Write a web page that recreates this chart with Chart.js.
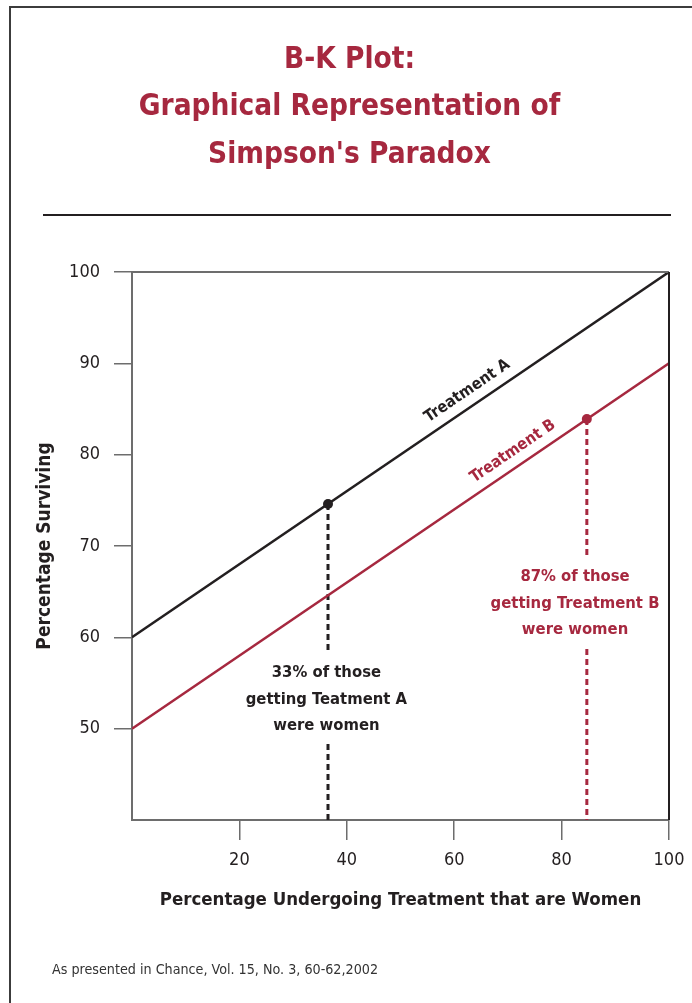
<!DOCTYPE html>
<html>
<head>
<meta charset="utf-8">
<script src="https://cdn.jsdelivr.net/npm/chart.js@4.4.1/dist/chart.umd.min.js"></script>
<style>
  html, body { margin: 0; padding: 0; background: #fff; }
  #wrap { width: 692px; height: 1003px; position: relative; }
</style>
</head>
<body>
<div id="wrap"><canvas id="bkChart"></canvas></div>
<script>
// values
const womenPct = [0, 100];            // both treatment lines run across the whole range
const survivalA = [60, 100];
const survivalB = [50, 90];
const markerWomen = [36.5, 84.7];     // where each treatment actually sits
const markerSurvival = [74.6, 83.9];
const xTicks = [20, 40, 60, 80, 100];
const yTicks = [50, 60, 70, 80, 90, 100];
const noteA = ["33% of those", "getting Teatment A", "were women"];
const noteB = ["87% of those", "getting Treatment B", "were women"];

const RED = "#a6283f";
const INK = "#231f20";
const AXIS = "#6d6d6d";
const FONT = "'Liberation Sans Narrow', 'DejaVu Sans Condensed', 'Liberation Sans', sans-serif";

const pts = (xs, ys) => xs.map((v, i) => ({ x: v, y: ys[i] }));

// text along the lines + the two notes (placed in data units)
const lineLabels = [
  { text: "Treatment A", at: 64, ys: survivalA, color: INK },
  { text: "Treatment B", at: 72.5, ys: survivalB, color: RED }
];
const notes = [
  { lines: noteA, x: 36.2, y: 56.1, drop: 0, color: INK },
  { lines: noteB, x: 82.5, y: 66.6, drop: 1, color: RED }
];

const decor = {
  id: "decor",
  beforeDraw(chart) {
    const c = chart.ctx;
    c.save();
    // outer frame (left + top only)
    c.strokeStyle = "#3c3c3c";
    c.lineWidth = 2;
    c.beginPath();
    c.moveTo(10, 1003); c.lineTo(10, 7); c.lineTo(692, 7);
    c.stroke();
    // rule under the title
    c.strokeStyle = INK;
    c.beginPath();
    c.moveTo(43, 215); c.lineTo(671, 215);
    c.stroke();
    // source line
    c.font = "14.2px " + FONT;
    c.fillStyle = "#333";
    c.textBaseline = "middle";
    c.textAlign = "left";
    c.fillText("As presented in Chance, Vol. 15, No. 3, 60-62,2002", 52, 970);
    c.restore();
  },
  afterDatasetsDraw(chart) {
    const c = chart.ctx, a = chart.chartArea;
    const xs = chart.scales.x, ys = chart.scales.y;
    c.save();
    // top and right edges of the plot box
    c.lineWidth = 2;
    c.strokeStyle = AXIS;
    c.beginPath(); c.moveTo(a.left, a.top); c.lineTo(a.right, a.top); c.stroke();
    c.strokeStyle = INK;
    c.beginPath(); c.moveTo(a.right, a.top); c.lineTo(a.right, a.bottom); c.stroke();

    // labels running along each line
    c.font = "bold 16px " + FONT;
    c.textAlign = "center";
    c.textBaseline = "middle";
    lineLabels.forEach(l => {
      const x0 = xs.getPixelForValue(womenPct[0]), x1 = xs.getPixelForValue(womenPct[1]);
      const y0 = ys.getPixelForValue(l.ys[0]), y1 = ys.getPixelForValue(l.ys[1]);
      const ang = Math.atan2(y1 - y0, x1 - x0);
      const t = (l.at - womenPct[0]) / (womenPct[1] - womenPct[0]);
      const px = x0 + (x1 - x0) * t, py = y0 + (y1 - y0) * t;
      const off = 15;
      c.save();
      c.translate(px + Math.sin(ang) * off, py - Math.cos(ang) * off);
      c.rotate(ang);
      c.fillStyle = l.color;
      c.fillText(l.text, 0, 0);
      c.restore();
    });

    // notes under the markers; the dashed drop line is knocked out behind them
    c.font = "bold 16.5px " + FONT;
    const lh = 26.5;
    notes.forEach(n => {
      const cx = xs.getPixelForValue(n.x), cy = ys.getPixelForValue(n.y);
      const dx = xs.getPixelForValue(markerWomen[n.drop]);
      c.fillStyle = "#fff";
      c.fillRect(dx - 5, cy - 20, 10, lh * (n.lines.length - 1) + 37);
      c.fillStyle = n.color;
      n.lines.forEach((s, i) => c.fillText(s, cx, cy + i * lh));
    });
    c.restore();
  }
};

new Chart(document.getElementById("bkChart"), {
  type: "scatter",
  data: {
    datasets: [
      {
        label: "markers",
        data: pts(markerWomen, markerSurvival),
        pointRadius: 5,
        pointBackgroundColor: [INK, RED],
        pointBorderWidth: 0,
        showLine: false
      },
      {
        label: "Treatment A",
        data: pts(womenPct, survivalA),
        showLine: true,
        borderColor: INK,
        borderWidth: 2.5,
        pointRadius: 0
      },
      {
        label: "Treatment B",
        data: pts(womenPct, survivalB),
        showLine: true,
        borderColor: RED,
        borderWidth: 2.5,
        pointRadius: 0
      },
      {
        label: "A drop",
        data: [{ x: markerWomen[0], y: markerSurvival[0] }, { x: markerWomen[0], y: 40 }],
        showLine: true,
        borderColor: INK,
        borderWidth: 3,
        borderDash: [6, 4],
        pointRadius: 0
      },
      {
        label: "B drop",
        data: [{ x: markerWomen[1], y: markerSurvival[1] }, { x: markerWomen[1], y: 40 }],
        showLine: true,
        borderColor: RED,
        borderWidth: 3,
        borderDash: [6, 4],
        pointRadius: 0
      }
    ]
  },
  options: {
    responsive: true,
    maintainAspectRatio: false,
    animation: false,
    layout: { padding: { top: 0, left: 30, right: 23, bottom: 83 } },
    plugins: {
      legend: { display: false },
      tooltip: { enabled: false },
      title: {
        display: true,
        text: ["B-K Plot:", "Graphical Representation of", "Simpson's Paradox"],
        color: RED,
        font: { family: FONT, size: 29.5, weight: "bold", lineHeight: 1.6 },
        padding: { top: 37, bottom: 93.4 }
      }
    },
    scales: {
      x: {
        type: "linear",
        min: 0,
        max: 100,
        afterBuildTicks: s => { s.ticks = xTicks.map(v => ({ value: v })); },
        afterFit: s => { s.height = 100; s.paddingLeft = 0; s.paddingRight = 0; },
        ticks: { color: INK, font: { family: FONT, size: 18 }, padding: 10, autoSkip: false, maxRotation: 0 },
        grid: { drawOnChartArea: false, drawTicks: true, tickLength: 20, color: AXIS, lineWidth: 1.5 },
        border: { color: AXIS, width: 2 },
        title: {
          display: true,
          text: "Percentage Undergoing Treatment that are Women",
          color: INK,
          font: { family: FONT, size: 18.5, weight: "bold", lineHeight: 1.2 },
          padding: { top: 0, bottom: 9 }
        }
      },
      y: {
        type: "linear",
        min: 40,
        max: 100,
        afterBuildTicks: s => { s.ticks = yTicks.map(v => ({ value: v })); },
        afterFit: s => { s.width = 102; s.paddingTop = 0; s.paddingBottom = 0; },
        ticks: { color: INK, font: { family: FONT, size: 18 }, padding: 14, autoSkip: false },
        grid: { drawOnChartArea: false, drawTicks: true, tickLength: 18, color: AXIS, lineWidth: 1.5 },
        border: { color: AXIS, width: 2 },
        title: {
          display: true,
          text: "Percentage Surviving",
          color: INK,
          font: { family: FONT, size: 19, weight: "bold", lineHeight: 1.2 },
          padding: { top: 4, bottom: 0 }
        }
      }
    }
  },
  plugins: [decor]
});
</script>
</body>
</html>
